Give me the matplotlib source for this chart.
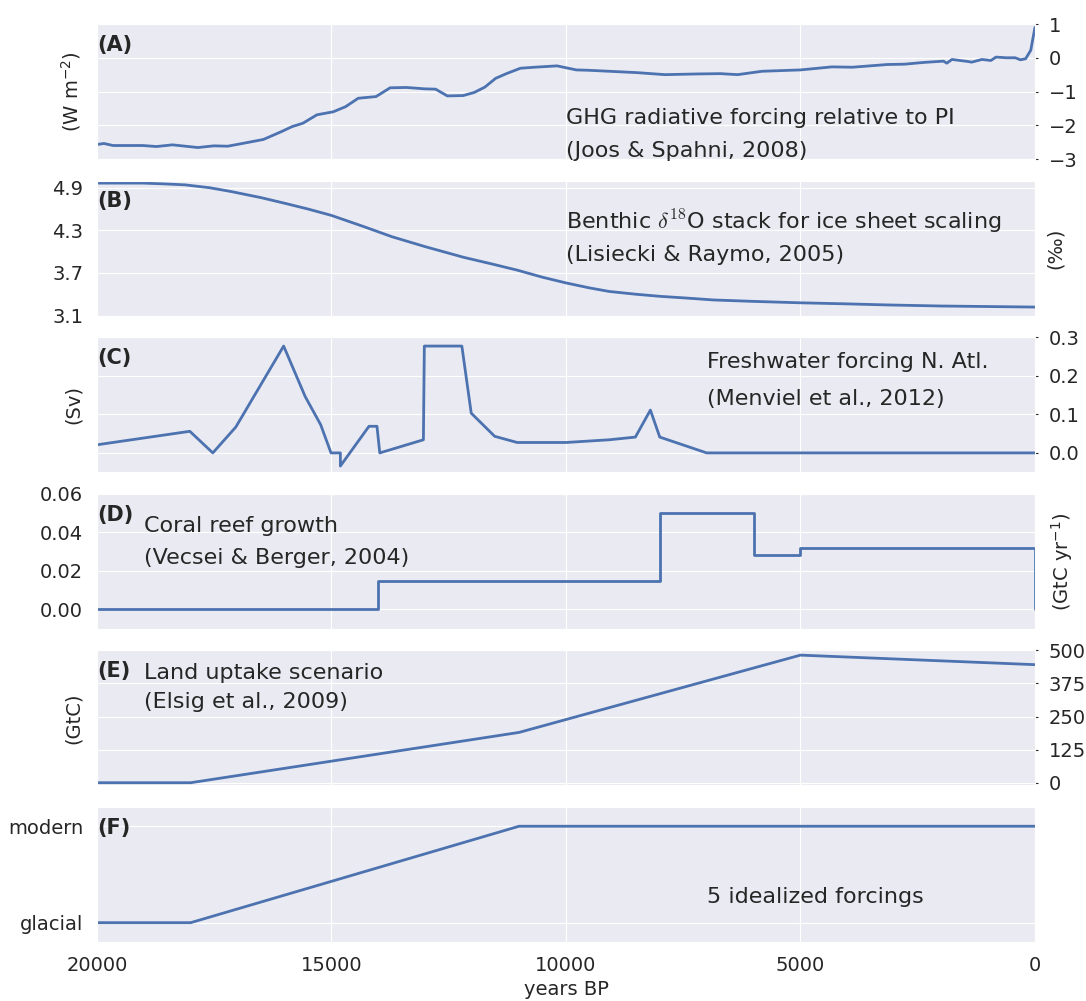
import matplotlib
matplotlib.use("Agg")
import matplotlib.pyplot as plt
import seaborn as sns
import numpy as np

sns.set_style("darkgrid")
plt.rcParams['font.family'] = ['DejaVu Sans']

# (A) GHG radiative forcing relative to PI (W m-2)
ghg_years = [20000, 19850, 19660, 19030, 18730, 18390, 17850, 17510, 17210, 16750,
             16450, 16070, 15840, 15610, 15310, 14960, 14700, 14430, 14050, 13750,
             13400, 13020, 12780, 12530, 12190, 11960, 11730, 11500, 11270, 10970,
             10670, 10190, 9780, 9530, 9080, 8490, 7890, 7230, 6710, 6340,
             5820, 5000, 4330, 3890, 3150, 2780, 2390, 1950, 1880, 1770,
             1430, 1350, 1130, 940, 830, 610, 420, 310, 200, 90, 0]
ghg_forcing = [-2.57, -2.54, -2.60, -2.60, -2.63, -2.58, -2.66, -2.61, -2.62, -2.50,
               -2.42, -2.19, -2.04, -1.94, -1.69, -1.60, -1.45, -1.20, -1.15, -0.89,
               -0.88, -0.92, -0.93, -1.13, -1.12, -1.03, -0.87, -0.61, -0.47, -0.31,
               -0.28, -0.24, -0.36, -0.37, -0.40, -0.44, -0.50, -0.48, -0.47, -0.50,
               -0.40, -0.36, -0.27, -0.28, -0.20, -0.19, -0.14, -0.10, -0.16, -0.05,
               -0.11, -0.13, -0.05, -0.08, 0.02, 0.0, 0.0, -0.06, -0.03, 0.22, 0.90]

# (B) benthic d18O stack
d18o_years = [20000, 19030, 18600, 18120, 17600, 17130, 16500, 15990, 15500, 15000,
              14300, 13710, 13000, 12180, 11600, 11040, 10500, 10000, 9500, 9080,
              8500, 7970, 7500, 6850, 6000, 5000, 4000, 3150, 2000, 0]
d18o = [4.965, 4.965, 4.955, 4.94, 4.90, 4.845, 4.76, 4.68, 4.60, 4.51,
        4.35, 4.21, 4.07, 3.92, 3.83, 3.74, 3.64, 3.56, 3.49, 3.44,
        3.40, 3.37, 3.35, 3.32, 3.30, 3.28, 3.265, 3.25, 3.235, 3.22]

# (C) freshwater forcing N. Atlantic (Sv)
fw_years = [20000, 18020, 17530, 17040, 16020, 15560, 15230, 15010, 14810, 14810,
            14200, 14030, 13970, 13040, 13020, 12220, 12020, 11520, 11040, 10000,
            9080, 8520, 8200, 8000, 7000, 0]
fw_flux = [0.021, 0.056, 0.0, 0.067, 0.277, 0.146, 0.073, 0.0, 0.0, -0.034,
           0.069, 0.069, 0.0, 0.034, 0.277, 0.277, 0.103, 0.043, 0.027, 0.027,
           0.034, 0.041, 0.111, 0.041, 0.0, 0.0]

# (D) coral reef growth (GtC/yr), step changes
coral_years = [20000, 14000, 8000, 6000, 5000, 0]
coral_rate = [0.0, 0.015, 0.050, 0.028, 0.032, 0.0]

# (E) land uptake (GtC)
land_years = [20000, 18000, 11000, 5000, 0]
land_carbon = [0, 0, 190, 482, 446]

# (F) idealized forcings, glacial -> modern
ideal_years = [20000, 18000, 11000, 0]
ideal_state = [0, 0, 1, 1]
ideal_ticks = [0, 1]
ideal_labels = ['glacial', 'modern']

year_ticks = [20000, 15000, 10000, 5000, 0]

blue = '#4C72B0'
txt = '#262626'
fs = 14      # ticks and axis labels
afs = 16     # annotations
lw = 2

fig, axes = plt.subplots(6, 1, figsize=(10.86, 10.01), dpi=100, sharex=True)
fig.subplots_adjust(left=0.0893, right=0.953, top=0.976, bottom=0.059, hspace=0.16)

for ax in axes:
    ax.set_xlim(20000, 0)
    ax.set_xticks(year_ticks)
    ax.tick_params(labelsize=fs, colors=txt, length=2, width=0.8, pad=8)

def panel_tag(ax, tag):
    ax.text(0.0, 0.92, tag, transform=ax.transAxes, fontsize=15, fontweight='bold',
            color=txt, va='top', ha='left')

def note(ax, x, y, s, **kw):
    ax.text(x, y, s, fontsize=afs, color=txt, va='center', **kw)

# A
ax = axes[0]
ax.plot(ghg_years, ghg_forcing, color=blue, lw=lw)
ax.set_ylim(-3, 1)
ax.set_yticks([-3, -2, -1, 0, 1])
ax.yaxis.tick_right()
ax.set_ylabel(r'(W m$^{-2}$)', fontsize=fs, color=txt, labelpad=10)
note(ax, 10000, -1.79, 'GHG radiative forcing relative to PI')
note(ax, 10000, -2.76, '(Joos & Spahni, 2008)')
panel_tag(ax, '(A)')

# B
ax = axes[1]
ax.plot(d18o_years, d18o, color=blue, lw=lw)
ax.set_ylim(3.1, 5.0)
ax.set_yticks([3.1, 3.7, 4.3, 4.9])
ax.yaxis.set_label_position('right')
ax.set_ylabel('(‰)', fontsize=fs, color=txt, labelpad=8)
note(ax, 10000, 4.42, r'Benthic $\delta^{18}$O stack for ice sheet scaling', math_fontfamily='cm')
note(ax, 10000, 3.95, '(Lisiecki & Raymo, 2005)')
panel_tag(ax, '(B)')

# C
ax = axes[2]
ax.plot(fw_years, fw_flux, color=blue, lw=lw)
ax.set_ylim(-0.05, 0.3)
ax.set_yticks([0.0, 0.1, 0.2, 0.3])
ax.yaxis.tick_right()
ax.set_ylabel('(Sv)', fontsize=fs, color=txt, labelpad=10)
note(ax, 7000, 0.236, 'Freshwater forcing N. Atl.')
note(ax, 7000, 0.141, '(Menviel et al., 2012)')
panel_tag(ax, '(C)')

# D
ax = axes[3]
ax.step(coral_years, coral_rate, where='post', color=blue, lw=lw)
ax.set_ylim(-0.01, 0.06)
ax.set_yticks([0.0, 0.02, 0.04, 0.06])
ax.set_yticklabels(['0.00', '0.02', '0.04', '0.06'])
ax.yaxis.set_label_position('right')
ax.set_ylabel(r'(GtC yr$^{-1}$)', fontsize=fs, color=txt, labelpad=10)
note(ax, 19000, 0.0433, 'Coral reef growth')
note(ax, 19000, 0.0265, '(Vecsei & Berger, 2004)')
panel_tag(ax, '(D)')

# E
ax = axes[4]
ax.plot(land_years, land_carbon, color=blue, lw=lw)
ax.set_ylim(-10, 500)
ax.set_yticks([0, 125, 250, 375, 500])
ax.yaxis.tick_right()
ax.set_ylabel('(GtC)', fontsize=fs, color=txt, labelpad=10)
note(ax, 19000, 413, 'Land uptake scenario')
note(ax, 19000, 304, '(Elsig et al., 2009)')
panel_tag(ax, '(E)')

# F
ax = axes[5]
ax.plot(ideal_years, ideal_state, color=blue, lw=lw)
ax.set_ylim(-0.2, 1.2)
ax.set_yticks(ideal_ticks)
ax.set_yticklabels(ideal_labels)
note(ax, 7000, 0.27, '5 idealized forcings')
ax.set_xlabel('years BP', fontsize=fs, color=txt)
panel_tag(ax, '(F)')

for ax in axes[:-1]:
    ax.tick_params(labelbottom=False)

plt.savefig('out.png', dpi=100)
